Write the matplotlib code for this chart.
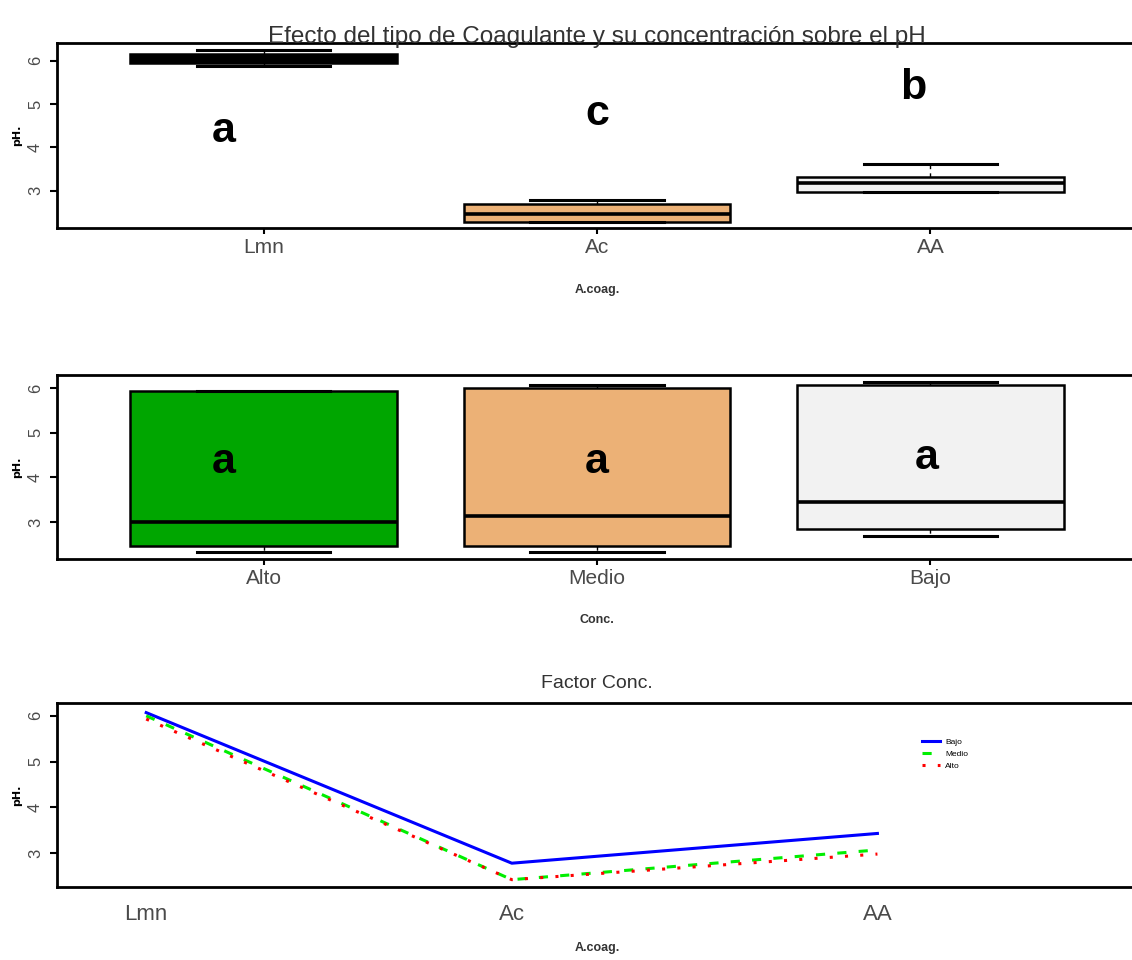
import numpy as np
import matplotlib
matplotlib.use('Agg')
import matplotlib.pyplot as plt

plt.rcParams['font.family'] = ['Liberation Sans Narrow', 'Liberation Sans', 'DejaVu Sans']

# pH por tipo de coagulante
coag = ['Lmn', 'Ac', 'AA']
coag_whislo = [5.89, 2.28, 2.97]
coag_q1 = [5.95, 2.28, 2.97]
coag_med = [6.05, 2.46, 3.17]
coag_q3 = [6.16, 2.69, 3.31]
coag_whishi = [6.25, 2.78, 3.61]
coag_letters = ['a', 'c', 'b']
coag_let_x = [0.88, 2.0, 2.95]
coag_let_y = [4.39, 4.78, 5.36]

# pH por concentracion
conc = ['Alto', 'Medio', 'Bajo']
conc_whislo = [2.33, 2.33, 2.69]
conc_q1 = [2.46, 2.46, 2.84]
conc_med = [3.00, 3.13, 3.45]
conc_q3 = [5.93, 6.00, 6.07]
conc_whishi = [5.93, 6.07, 6.13]
conc_letters = ['a', 'a', 'a']
conc_let_x = [0.88, 2.0, 2.99]
conc_let_y = [4.34, 4.34, 4.43]

# medias para el grafico de interaccion
ph_bajo = [6.07, 2.78, 3.43]
ph_medio = [6.00, 2.42, 3.07]
ph_alto = [5.93, 2.42, 2.98]

terrain = ['#00A600', '#ECB176', '#F2F2F2']
tick_col = '#4a4a4a'
W, H = 1132, 960

fig = plt.figure(figsize=(W / 100, H / 100), dpi=100)

def add_ax(top, bottom, left=57, right=1137):
    return fig.add_axes([left / W, 1 - bottom / H, (right - left) / W, (bottom - top) / H])

def style(ax, xlab, xticks=True):
    for s in ax.spines.values():
        s.set_linewidth(2)
    ax.set_yticks([3, 4, 5, 6])
    ax.tick_params(axis='y', length=5, width=1.5, pad=5, labelsize=12, labelcolor=tick_col)
    for lab in ax.get_yticklabels():
        lab.set_rotation(90)
        lab.set_va('center')
    ax.tick_params(axis='x', length=4 if xticks else 0, width=1.5, pad=3 if xticks else 12,
                   labelsize=15, labelcolor=tick_col)
    ax.set_ylabel('pH.', fontsize=8, fontweight='bold', family='DejaVu Sans')
    ax.yaxis.set_label_coords(-0.032, 0.5)
    ax.set_xlabel(xlab, fontsize=9, fontweight='bold', color='#333333', va='top')
    ax.xaxis.set_label_coords(0.5, -0.30)

def boxes(ax, lo, q1, med, q3, hi, colors):
    stats = [dict(whislo=lo[i], q1=q1[i], med=med[i], q3=q3[i], whishi=hi[i]) for i in range(len(lo))]
    bp = ax.bxp(stats, positions=[1, 2, 3], widths=0.8, capwidths=0.4, patch_artist=True,
                showfliers=False,
                boxprops=dict(linewidth=1.8, edgecolor='black'),
                medianprops=dict(linewidth=2.6, color='black'),
                whiskerprops=dict(linewidth=1, color='black', linestyle=(0, (3, 3))),
                capprops=dict(linewidth=2.2, color='black'))
    for patch, c in zip(bp['boxes'], colors):
        patch.set_facecolor(c)

# panel 1
ax1 = add_ax(43, 228)
boxes(ax1, coag_whislo, coag_q1, coag_med, coag_q3, coag_whishi, ['black', terrain[1], terrain[2]])
ax1.set_xlim(0.38, 3.62)
ax1.set_ylim(2.14, 6.41)
ax1.set_xticks([1, 2, 3])
ax1.set_xticklabels(coag)
style(ax1, 'A.coag.')
for x, y, t in zip(coag_let_x, coag_let_y, coag_letters):
    ax1.text(x, y, t, ha='center', va='center', fontsize=31, fontweight='bold')
ax1.text(0.5, 1.0, 'Efecto del tipo de Coagulante y su concentración sobre el pH',
         transform=ax1.transAxes, ha='center', va='baseline', fontsize=17.5, color='#333333')

# panel 2
ax2 = add_ax(375, 559)
boxes(ax2, conc_whislo, conc_q1, conc_med, conc_q3, conc_whishi, terrain)
ax2.set_xlim(0.38, 3.62)
ax2.set_ylim(2.17, 6.29)
ax2.set_xticks([1, 2, 3])
ax2.set_xticklabels(conc)
style(ax2, 'Conc.')
for x, y, t in zip(conc_let_x, conc_let_y, conc_letters):
    ax2.text(x, y, t, ha='center', va='center', fontsize=31, fontweight='bold')

# panel 3: interaccion
ax3 = add_ax(703, 887)
xs = [1, 2, 3]
ax3.plot(xs, ph_bajo, color='blue', lw=2.2, ls='-', label='Bajo')
ax3.plot(xs, ph_medio, color='#00EE00', lw=2.2, ls=(0, (3, 4)), label='Medio')
ax3.plot(xs, ph_alto, color='red', lw=2.2, ls=(0, (1, 4)), label='Alto')
ax3.set_xlim(0.756, 3.71)
ax3.set_ylim(2.26, 6.28)
ax3.set_xticks(xs)
ax3.set_xticklabels(coag)
style(ax3, 'A.coag.', xticks=False)
ax3.tick_params(axis='x', labelsize=16)
ax3.text(0.5, 1.08, 'Factor Conc.', transform=ax3.transAxes, ha='center', va='baseline',
         fontsize=14, color='#333333')
ax3.legend(loc='upper left', bbox_to_anchor=(0.797, 0.83), frameon=False, fontsize=6,
           handlelength=2.2, handletextpad=0.6, labelspacing=0.5, borderpad=0)

fig.savefig('out.png', dpi=100)
